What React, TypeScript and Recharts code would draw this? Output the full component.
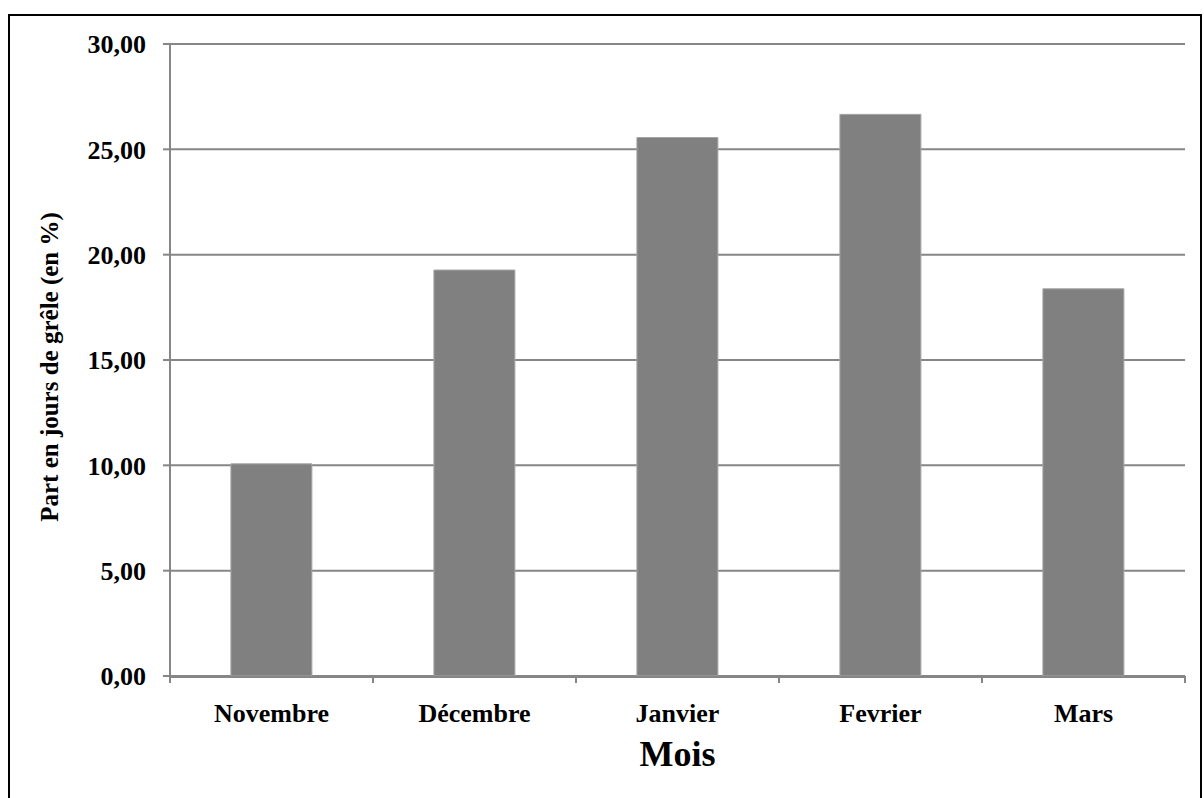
import { Bar, BarChart, CartesianGrid, XAxis, YAxis } from 'recharts';

const months = ['Novembre', 'Décembre', 'Janvier', 'Fevrier', 'Mars'];
const shares = [10.07, 19.27, 25.56, 26.66, 18.38];
const yTicks = [0, 5, 10, 15, 20, 25, 30];
const edgeTicks = [0, 1, 2, 3, 4, 5];

const data = months.map((mois, i) => ({ mois, part: shares[i], edge: i + 0.5 }));

const FONT = '"Liberation Serif", "Times New Roman", serif';
const GRID = '#868686';

const fmt = (v: number) => v.toFixed(2).replace('.', ',');

export default function App() {
  return (
    <div
      style={{
        position: 'absolute',
        left: 0,
        top: 0,
        width: 1204,
        height: 798,
        overflow: 'hidden',
        background: '#fff',
        fontFamily: FONT,
      }}
    >
      <div
        style={{
          position: 'absolute',
          left: 8,
          top: 14,
          width: 1190,
          height: 800,
          border: '2px solid #000',
        }}
      />
      <div style={{ position: 'absolute', left: 0, top: 0 }}>
        <BarChart
          width={1204}
          height={798}
          data={data}
          margin={{ top: 44, right: 19, bottom: 0, left: 0 }}
          barCategoryGap="30%"
        >
          <CartesianGrid vertical={false} xAxisId={1} stroke={GRID} strokeWidth={2} />
          {/* tick marks between categories, like the spreadsheet original */}
          <XAxis
            xAxisId={0}
            type="number"
            dataKey="edge"
            domain={[0, 5]}
            ticks={edgeTicks}
            height={1}
            axisLine={false}
            tick={() => <g />}
            tickLine={{ stroke: GRID, strokeWidth: 2 }}
            tickSize={7}
          />
          <XAxis
            xAxisId={1}
            dataKey="mois"
            height={121}
            axisLine={{ stroke: GRID, strokeWidth: 2 }}
            tickLine={false}
            tickMargin={21}
            tick={{ fill: '#000', fontSize: 26, fontWeight: 'bold', fontFamily: FONT }}
            label={{
              value: 'Mois',
              position: 'center',
              dy: 16,
              fill: '#000',
              fontSize: 36,
              fontWeight: 'bold',
              fontFamily: FONT,
            }}
          />
          <YAxis
            width={170}
            domain={[0, 30]}
            ticks={yTicks}
            tickFormatter={fmt}
            axisLine={{ stroke: GRID, strokeWidth: 2 }}
            tickLine={{ stroke: GRID, strokeWidth: 2 }}
            tickSize={7}
            tickMargin={17}
            tick={{ fill: '#000', fontSize: 26, fontWeight: 'bold', fontFamily: FONT }}
            label={{
              value: 'Part en jours de grêle (en %)',
              angle: -90,
              position: 'center',
              dx: -36,
              dy: 7,
              fill: '#000',
              fontSize: 25,
              fontWeight: 'bold',
              fontFamily: FONT,
            }}
          />
          <Bar
            dataKey="part"
            xAxisId={1}
            fill="#808080"
            stroke="#a6a6a6"
            strokeWidth={1}
            isAnimationActive={false}
          />
        </BarChart>
      </div>
    </div>
  );
}
